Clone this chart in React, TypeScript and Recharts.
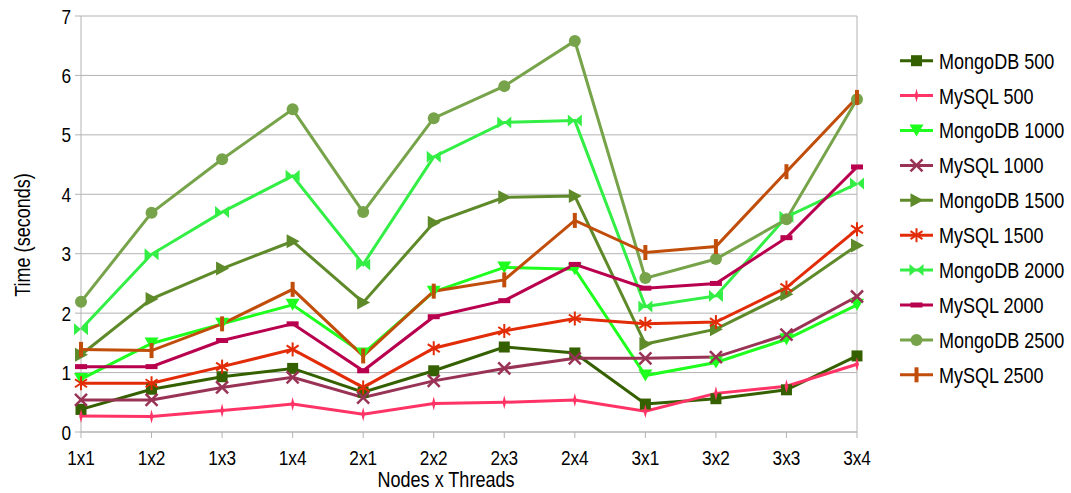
import { CartesianGrid, Line, LineChart, ReferenceLine, XAxis, YAxis } from 'recharts';

// Tempo de consulta por configuracao de nos x threads

const categories = ['1x1', '1x2', '1x3', '1x4', '2x1', '2x2', '2x3', '2x4', '3x1', '3x2', '3x3', '3x4'];

const mongo500 = [0.38, 0.72, 0.93, 1.07, 0.67, 1.03, 1.43, 1.33, 0.47, 0.56, 0.71, 1.28];
const mysql500 = [0.27, 0.26, 0.36, 0.47, 0.3, 0.48, 0.5, 0.54, 0.35, 0.65, 0.77, 1.14];
const mongo1000 = [0.89, 1.49, 1.82, 2.14, 1.32, 2.36, 2.77, 2.74, 0.95, 1.17, 1.56, 2.14];
const mysql1000 = [0.54, 0.54, 0.75, 0.92, 0.58, 0.86, 1.07, 1.24, 1.24, 1.26, 1.64, 2.28];
const mongo1500 = [1.3, 2.24, 2.75, 3.21, 2.18, 3.52, 3.95, 3.97, 1.48, 1.73, 2.32, 3.14];
const mysql1500 = [0.82, 0.82, 1.1, 1.39, 0.75, 1.41, 1.7, 1.91, 1.82, 1.85, 2.43, 3.41];
const mongo2000 = [1.73, 2.99, 3.7, 4.31, 2.82, 4.63, 5.21, 5.24, 2.11, 2.29, 3.62, 4.18];
const mysql2000 = [1.1, 1.1, 1.54, 1.82, 1.03, 1.94, 2.21, 2.82, 2.42, 2.5, 3.27, 4.46];
const mongo2500 = [2.19, 3.69, 4.59, 5.43, 3.7, 5.28, 5.82, 6.58, 2.59, 2.91, 3.58, 5.6];
const mysql2500 = [1.39, 1.37, 1.82, 2.4, 1.28, 2.37, 2.56, 3.56, 3.02, 3.12, 4.38, 5.63];

const yTicks = [0, 1, 2, 3, 4, 5, 6, 7];

type Shape = 'square' | 'thin' | 'down' | 'cross' | 'right' | 'star' | 'bowtie' | 'hbar' | 'circle' | 'plus';

const series: { key: string; name: string; values: number[]; color: string; shape: Shape }[] = [
  { key: 'm500', name: 'MongoDB 500', values: mongo500, color: '#356000', shape: 'square' },
  { key: 's500', name: 'MySQL 500', values: mysql500, color: '#ff3366', shape: 'thin' },
  { key: 'm1000', name: 'MongoDB 1000', values: mongo1000, color: '#1eff1e', shape: 'down' },
  { key: 's1000', name: 'MySQL 1000', values: mysql1000, color: '#993355', shape: 'cross' },
  { key: 'm1500', name: 'MongoDB 1500', values: mongo1500, color: '#5f8a2a', shape: 'right' },
  { key: 's1500', name: 'MySQL 1500', values: mysql1500, color: '#e22c08', shape: 'star' },
  { key: 'm2000', name: 'MongoDB 2000', values: mongo2000, color: '#33ee44', shape: 'bowtie' },
  { key: 's2000', name: 'MySQL 2000', values: mysql2000, color: '#b8004f', shape: 'hbar' },
  { key: 'm2500', name: 'MongoDB 2500', values: mongo2500, color: '#77a34a', shape: 'circle' },
  { key: 's2500', name: 'MySQL 2500', values: mysql2500, color: '#c04d0a', shape: 'plus' },
];

const data = categories.map((c, i) => {
  const row: Record<string, string | number> = { name: c };
  series.forEach(s => { row[s.key] = s.values[i]; });
  return row;
});

// fonte estreita: Liberation Sans comprimida na horizontal
const FONT = '"Liberation Sans", Arial, sans-serif';
const SQUEEZE = 0.82;
const GRID = '#b3b3b3';

const Narrow = ({ x, y, size, anchor, dy, children }: any) => (
  <text
    transform={`translate(${x},${y}) scale(${SQUEEZE},1)`}
    textAnchor={anchor}
    dy={dy}
    fontFamily={FONT}
    fontSize={size}
    fill="#000"
  >
    {children}
  </text>
);

const Marker = ({ cx, cy, shape, color }: { cx: number; cy: number; shape: Shape; color: string }) => {
  const t = `translate(${cx},${cy})`;
  switch (shape) {
    case 'square':
      return <rect x={cx - 5.5} y={cy - 5.5} width={11} height={11} fill={color} />;
    case 'thin':
      return <polygon transform={t} points="0,-7 1.8,0 0,7 -1.8,0" fill={color} />;
    case 'down':
      return <polygon transform={t} points="-7,-6 7,-6 0,6" fill={color} />;
    case 'cross':
      return (
        <g transform={t} stroke={color} strokeWidth={2.5}>
          <line x1={-6} y1={-6} x2={6} y2={6} />
          <line x1={-6} y1={6} x2={6} y2={-6} />
        </g>
      );
    case 'right':
      return <polygon transform={t} points="-6,-7 7,0 -6,7" fill={color} />;
    case 'star':
      return (
        <g transform={t} stroke={color} strokeWidth={2}>
          <line x1={0} y1={-7} x2={0} y2={7} />
          <line x1={-6} y1={-4} x2={6} y2={4} />
          <line x1={-6} y1={4} x2={6} y2={-4} />
        </g>
      );
    case 'bowtie':
      return (
        <g transform={t} fill={color}>
          <polygon points="-7,-6 0,0 -7,6" />
          <polygon points="7,-6 0,0 7,6" />
        </g>
      );
    case 'hbar':
      return <rect x={cx - 6} y={cy - 2.5} width={12} height={5} fill={color} />;
    case 'circle':
      return <circle cx={cx} cy={cy} r={6} fill={color} />;
    case 'plus':
      return <rect x={cx - 2} y={cy - 7.5} width={4} height={15} fill={color} />;
  }
  return null;
};

const LegendBox = () => (
  <svg width={171} height={350} style={{ position: 'absolute', left: 900, top: 43 }}>
    {series.map((s, i) => {
      const y = 17.7 + i * 34.9;
      return (
        <g key={s.key}>
          <line x1={0} y1={y} x2={33} y2={y} stroke={s.color} strokeWidth={3} />
          <Marker cx={16.5} cy={y} shape={s.shape} color={s.color} />
          <Narrow x={39} y={y} size={22} anchor="start" dy="0.36em">
            {s.name}
          </Narrow>
        </g>
      );
    })}
  </svg>
);

const XTick = ({ x, y, payload }: any) => (
  <Narrow x={x} y={y} size={21} anchor="middle" dy={25}>
    {payload.value}
  </Narrow>
);

const YTick = ({ x, y, payload }: any) => (
  <Narrow x={x} y={y} size={21} anchor="end" dy="0.36em">
    {payload.value}
  </Narrow>
);

export default function App() {
  return (
    <div style={{ position: 'absolute', left: 0, top: 0, width: 1071, height: 493, background: '#fff' }}>
      <LineChart width={1071} height={493} data={data} margin={{ top: 16, right: 214, bottom: 21, left: 21 }}>
        <CartesianGrid vertical={false} stroke={GRID} />
        <XAxis
          dataKey="name"
          stroke={GRID}
          tickSize={6}
          height={40}
          tick={<XTick />}
          label={{
            content: () => (
              <Narrow x={446} y={487} size={22} anchor="middle">
                Nodes x Threads
              </Narrow>
            ),
          }}
        />
        <YAxis
          domain={[0, 7]}
          ticks={yTicks}
          stroke={GRID}
          tickSize={6}
          tickMargin={4}
          width={60}
          tick={<YTick />}
          label={{
            content: () => (
              <text
                transform="translate(22,235) rotate(-90) scale(0.82,1)"
                textAnchor="middle"
                dy="0.36em"
                fontFamily={FONT}
                fontSize={22}
                fill="#000"
              >
                Time (seconds)
              </text>
            ),
          }}
        />
        <ReferenceLine x="3x4" stroke={GRID} />
        {series.map(s => (
          <Line
            key={s.key}
            dataKey={s.key}
            name={s.name}
            stroke={s.color}
            strokeWidth={3}
            isAnimationActive={false}
            dot={(p: any) => <Marker key={`${s.key}-${p.index}`} cx={p.cx} cy={p.cy} shape={s.shape} color={s.color} />}
            activeDot={false}
          />
        ))}
      </LineChart>
      <LegendBox />
    </div>
  );
}
